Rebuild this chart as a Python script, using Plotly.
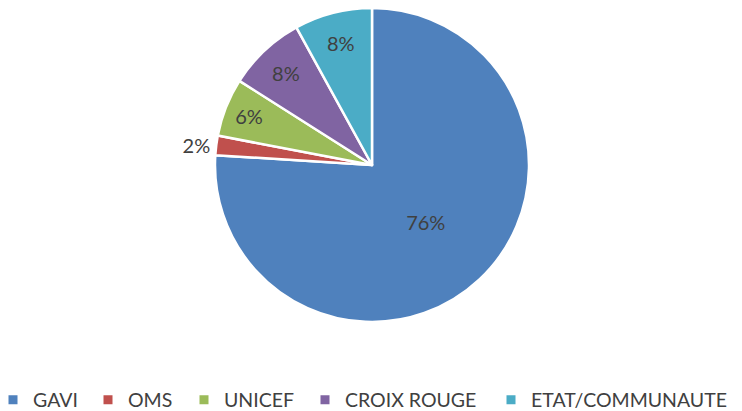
import plotly.graph_objects as go

labels = ["GAVI", "OMS", "UNICEF", "CROIX ROUGE", "ETAT/COMMUNAUTE"]
values = [76, 2, 6, 8, 8]
colors = ["#4F81BD", "#C0504D", "#9BBB59", "#8064A2", "#4BACC6"]
text_pos = ["inside", "outside", "inside", "inside", "inside"]

# the page body keeps its default 8px margin, so the figure is sized to fit the window
W, H = 734, 403

# left edge (px) of each legend item in the single legend row
legend_x_px = [-15, 80, 176, 297, 483]

FONT = "Lato, 'Open Sans', sans-serif"

fig = go.Figure()
fig.add_trace(go.Pie(
    labels=labels,
    values=values,
    marker=dict(colors=colors, line=dict(color="white", width=2.5)),
    sort=False,
    direction="clockwise",
    rotation=0,
    textinfo="percent",
    texttemplate="%{percent:.0%}",
    textposition=text_pos,
    insidetextorientation="horizontal",
    textfont=dict(family=FONT, size=20, color="#404040"),
    hoverinfo="label+percent",
    domain=dict(x=[0, 728 / W], y=[1 - 314 / H, 1]),
    showlegend=False,
))

# one legend per category, laid out in a single row like the original
legend_layouts = {}
for i, (lab, col) in enumerate(zip(labels, colors)):
    lname = "legend" if i == 0 else f"legend{i + 1}"
    fig.add_trace(go.Scatter(
        x=[None], y=[None], mode="markers", name=lab,
        marker=dict(symbol="square", size=9, color=col),
        legend=lname, showlegend=True, hoverinfo="skip",
    ))
    legend_layouts[lname] = dict(
        x=legend_x_px[i] / W, xanchor="left",
        y=1 - 392 / H, yanchor="middle",
        orientation="h",
        font=dict(family=FONT, size=19.5, color="#404040"),
        bgcolor="rgba(0,0,0,0)",
        itemwidth=30,
        itemclick=False, itemdoubleclick=False,
    )

fig.update_layout(
    width=W, height=H,
    margin=dict(l=0, r=0, t=0, b=0, autoexpand=False),
    paper_bgcolor="white",
    plot_bgcolor="white",
    font=dict(family=FONT, color="#404040"),
    uniformtext=dict(minsize=20, mode="show"),
    xaxis=dict(visible=False),
    yaxis=dict(visible=False),
    showlegend=True,
    **legend_layouts,
)

fig.write_html("out.html")
